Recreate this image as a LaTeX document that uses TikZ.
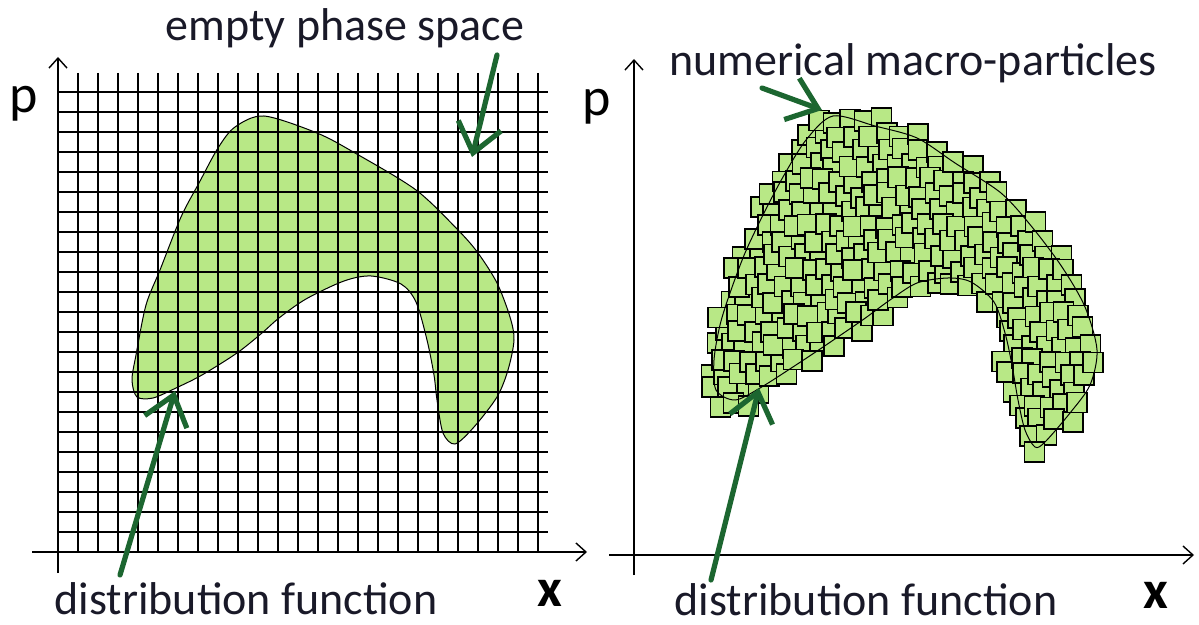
\documentclass[tikz,border=0pt]{standalone}
\usepackage{fontspec}
\setmainfont{Carlito}
\usetikzlibrary{arrows.meta}
\definecolor{blobgreen}{RGB}{184,232,134}
\definecolor{arrowgreen}{RGB}{28,102,48}
\definecolor{labelink}{RGB}{25,25,40}

\begin{document}
\begin{tikzpicture}[
  x=0.5pt, y=-0.5pt,
  label/.style={inner sep=0pt, text=labelink, font=\fontsize{23}{27}\selectfont},
  axislabel/.style={inner sep=0pt, text=black, font=\fontsize{27}{30}\selectfont},
  axis/.style={line width=0.7pt, -{Straight Barb[length=5pt,width=9pt]}},
  gridline/.style={line width=0.8pt},
  outline/.style={line width=0.5pt},
  particle/.style={draw=black, fill=blobgreen, line width=0.85pt},
  pointer/.style={draw=arrowgreen, line width=2.6pt, line cap=round, -{Straight Barb[length=14pt,width=22pt]}}
]
\useasboundingbox (0,0) rectangle (1199,625);

% left panel: phase space grid
\fill[blobgreen] plot[smooth cycle] coordinates {(264,116) (317,133) (355,153) (416,190) (458,230) (478,253) (497,283) (510,317) (514,340) (508,370) (497,397) (474,427) (455,444) (443,433) (437,400) (434,375) (427,340) (416,302) (401,284) (371,276) (344,281) (306,299) (279,318) (262,333) (237,353) (202,375) (176,388) (153,398) (137,397) (132,380) (136,355) (146,305) (160,270) (181,217) (199,183) (218,148) (235,127)};
\foreach \i in {1,...,24}
  \draw[gridline] (58+20*\i,73) -- (58+20*\i,552);
\foreach \j in {0,...,22}
  \draw[gridline] (58,92+20*\j) -- (548,92+20*\j);
\draw[outline] plot[smooth cycle] coordinates {(264,116) (317,133) (355,153) (416,190) (458,230) (478,253) (497,283) (510,317) (514,340) (508,370) (497,397) (474,427) (455,444) (443,433) (437,400) (434,375) (427,340) (416,302) (401,284) (371,276) (344,281) (306,299) (279,318) (262,333) (237,353) (202,375) (176,388) (153,398) (137,397) (132,380) (136,355) (146,305) (160,270) (181,217) (199,183) (218,148) (235,127)};
\draw[axis] (32,552) -- (587,552);
\draw[axis] (58,573) -- (58,57);

\node[axislabel] (pL) at (24,104) {p};
\node[axislabel, font=\fontsize{27}{30}\selectfont\bfseries] (xL) at (550,593) {x};
\node[label] (empty) at (345,28) {empty phase space};
\node[label] (distL) at (246,599) {distribution function};

% right panel: macro-particles on a jittered lattice inside the band
\pgfmathsetseed{5}
\foreach \ox/\oy/\ix/\iy [remember=\ox as \pox (initially 712), remember=\oy as \poy (initially 410),
    remember=\ix as \pix (initially 742), remember=\iy as \piy (initially 412)] in
  {712/410/742/412, 707/360/768/394, 715/320/804/370, 729/280/836/350, 746/240/866/330,
   764/200/892/312, 788/158/915/296, 817/120/937/288, 855/112/955/287, 900/126/972/292,
   947/149/986/304, 993/179/995/325, 1034/219/1000/345, 1069/262/1004/365, 1090/303/1008/390,
   1100/350/1014/415, 1088/396/1020/437, 1062/432/1030/455, 1042/456/1038/458}{
  \pgfmathtruncatemacro\gxa{floor(min(\pox,\ox,\pix,\ix)/15)-1}
  \pgfmathtruncatemacro\gxb{ceil(max(\pox,\ox,\pix,\ix)/15)+1}
  \pgfmathtruncatemacro\gya{floor(min(\poy,\oy,\piy,\iy)/15)-1}
  \pgfmathtruncatemacro\gyb{ceil(max(\poy,\oy,\piy,\iy)/15)+1}
  \foreach \gx in {\gxa,...,\gxb}{
    \foreach \gy in {\gya,...,\gyb}{
      \pgfmathsetmacro\qx{15*\gx+5*mod(\gy,3)}
      \pgfmathsetmacro\qy{15*\gy}
      \pgfmathsetmacro\ca{((\ox-\pox)/10)*((\qy-\poy)/10)-((\oy-\poy)/10)*((\qx-\pox)/10)}
      \pgfmathsetmacro\cb{((\ix-\ox)/10)*((\qy-\oy)/10)-((\iy-\oy)/10)*((\qx-\ox)/10)}
      \pgfmathsetmacro\cc{((\pix-\ix)/10)*((\qy-\iy)/10)-((\piy-\iy)/10)*((\qx-\ix)/10)}
      \pgfmathsetmacro\cd{((\pox-\pix)/10)*((\qy-\piy)/10)-((\poy-\piy)/10)*((\qx-\pix)/10)}
      \pgfmathtruncatemacro\inside{(\ca>0 && \cb>=0 && \cc>0 && \cd>0) || (\ca<0 && \cb<=0 && \cc<0 && \cd<0)}
      \ifnum\inside=1
        \pgfmathsetmacro\px{\qx+3*rand}
        \pgfmathsetmacro\py{\qy+3*rand}
        \draw[particle] (\px-10,\py-10) rectangle (\px+10,\py+10);
      \fi
    }
  }
}
\draw[outline] plot[smooth cycle] coordinates {(833,116) (875,126) (917,138) (955,163) (1001,193) (1032,227) (1062,267) (1085,307) (1097,350) (1090,385) (1070,413) (1045,442) (1035,447) (1025,430) (1018,400) (1012,365) (1005,333) (994,302) (971,282) (948,278) (917,283) (890,300) (864,319) (829,343) (799,363) (760,388) (735,400) (716,390) (714,360) (720,325) (730,293) (745,253) (764,213) (783,177) (806,140)};
\draw[axis] (609,555) -- (1194,555);
\draw[axis] (634,575) -- (634,59);

\node[axislabel] (pR) at (597,107) {p};
\node[axislabel, font=\fontsize{27}{30}\selectfont\bfseries] (xR) at (1156,595) {x};
\node[label] (numpart) at (913,63) {numerical macro-particles};
\node[label] (distR) at (866,600) {distribution function};

% pointers
\coordinate (emptytail) at (497,55);
\coordinate (emptytip) at (472,157);
\coordinate (distLtail) at (120,575);
\coordinate (distLtip) at (175,391);
\coordinate (numtail) at (762,88);
\coordinate (numtip) at (822,110);
\coordinate (distRtail) at (711,580);
\coordinate (distRtip) at (759,388);
\draw[pointer] (emptytail) -- (emptytip);
\draw[pointer] (distLtail) -- (distLtip);
\draw[pointer] (numtail) -- (numtip);
\draw[pointer] (distRtail) -- (distRtip);
\end{tikzpicture}
\end{document}
